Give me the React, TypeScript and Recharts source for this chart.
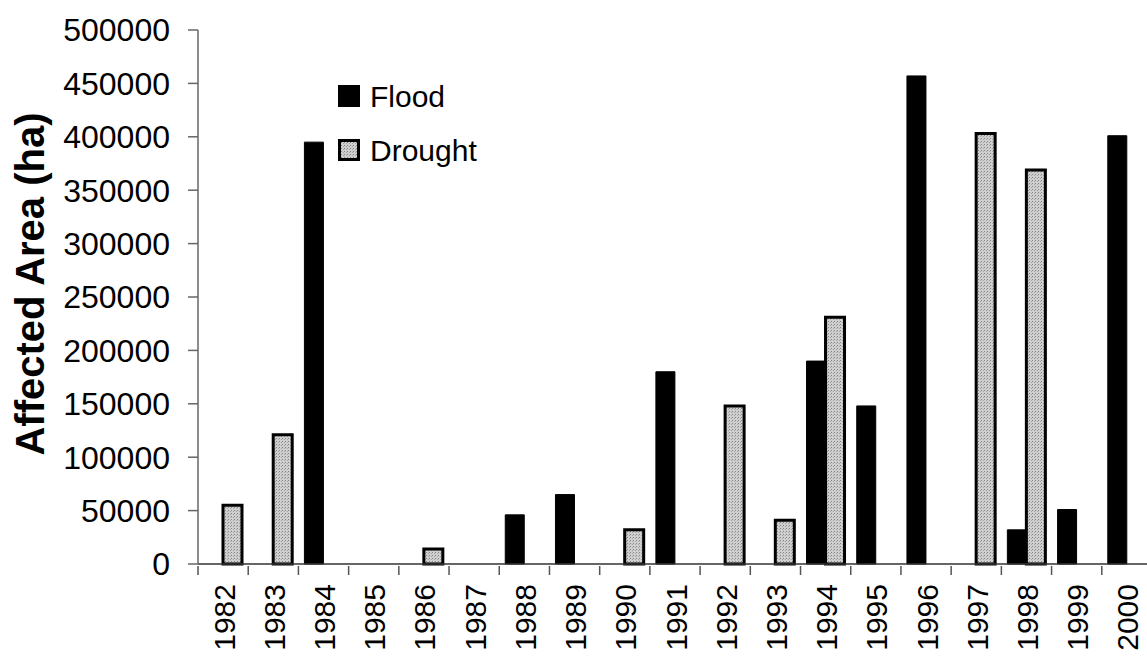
import React from "react";
import { BarChart, Bar, XAxis, YAxis, Legend } from "recharts";

const years = [
  "1982", "1983", "1984", "1985", "1986", "1987", "1988", "1989", "1990", "1991",
  "1992", "1993", "1994", "1995", "1996", "1997", "1998", "1999", "2000",
];
const flood = [
  null, null, 395000, null, null, null, 46000, 65000, null, 180000,
  null, null, 190000, 148000, 457000, null, 32000, 51000, 401000,
];
const drought = [
  55000, 121000, null, null, 14000, null, null, null, 32000, null,
  148000, 41000, 231000, null, null, 403000, 369000, null, null,
];
const yTicks = [0, 50000, 100000, 150000, 200000, 250000, 300000, 350000, 400000, 450000, 500000];

const data = years.map((year, i) => ({ year, flood: flood[i], drought: drought[i] }));

const FONT = '"Liberation Sans", Arial, sans-serif';
const CHART_W = 1160;
const CHART_H = 660;
const Y_AXIS_W = 198;
const MARGIN = { top: 30, right: 8, bottom: 0, left: 0 };
const BAND = (CHART_W - MARGIN.left - MARGIN.right - Y_AXIS_W) / years.length;
const AXIS_Y = 564;

function YearTick({ x, y, payload }: any) {
  return (
    <g>
      <line x1={x - BAND / 2} x2={x - BAND / 2} y1={y} y2={y + 9} stroke="#555" strokeWidth={1.5} />
      <text
        transform={`translate(${x + 1},${y}) rotate(-90)`}
        x={-18}
        y={0}
        textAnchor="end"
        dominantBaseline="central"
        fontSize={30}
        fontFamily={FONT}
        fill="#000"
      >
        {payload.value}
      </text>
    </g>
  );
}

function AxisTitle() {
  return (
    <text
      transform="translate(30,284) rotate(-90)"
      textAnchor="middle"
      dominantBaseline="central"
      fontSize={40}
      fontWeight="bold"
      fontFamily={FONT}
      fill="#000"
    >
      Affected Area (ha)
    </text>
  );
}

function LegendBox() {
  const items = [
    { name: "Flood", fill: "#000" },
    { name: "Drought", fill: "url(#droughtDots)" },
  ];
  return (
    <svg width={200} height={90} style={{ overflow: "visible", display: "block" }}>
      {items.map((it, i) => (
        <g key={it.name} transform={`translate(0,${i * 54})`}>
          <rect x={1.5} y={1.5} width={19} height={19} fill={it.fill} stroke="#000" strokeWidth={3} />
          <text x={32} y={11} dominantBaseline="central" fontSize={30} fontFamily={FONT} fill="#000">
            {it.name}
          </text>
        </g>
      ))}
    </svg>
  );
}

export default function App() {
  return (
    <div style={{ position: "absolute", left: 0, top: 0, width: 1147, height: 660, overflow: "hidden", background: "#fff" }}>
      <BarChart width={CHART_W} height={CHART_H} data={data} margin={MARGIN} barGap={0} barSize={19}>
        <defs>
          <pattern id="droughtDots" width={3} height={3} patternUnits="userSpaceOnUse">
            <rect width={3} height={3} fill="#cfcfcf" />
            <rect width={1} height={1} fill="#858585" />
            <rect x={2} y={1} width={1} height={1} fill="#a4a4a4" />
          </pattern>
        </defs>
        <XAxis
          dataKey="year"
          height={CHART_H - AXIS_Y}
          stroke="#333"
          strokeWidth={1.5}
          tickLine={false}
          tickSize={0}
          interval={0}
          tick={<YearTick />}
        />
        <YAxis
          width={Y_AXIS_W}
          domain={[0, 500000]}
          ticks={yTicks}
          interval={0}
          stroke="#666"
          strokeWidth={1.5}
          tickSize={10}
          tickMargin={18}
          tick={{ fontSize: 32, fontFamily: FONT, fill: "#000" }}
          label={<AxisTitle />}
        />
        <Legend
          content={<LegendBox />}
          wrapperStyle={{ position: "absolute", left: 338, top: 85, width: 0, height: 0, overflow: "visible" }}
        />
        <Bar dataKey="flood" name="Flood" fill="#000" stroke="#000" strokeWidth={1} isAnimationActive={false} />
        <Bar dataKey="drought" name="Drought" fill="url(#droughtDots)" stroke="#000" strokeWidth={3} isAnimationActive={false} />
      </BarChart>
    </div>
  );
}
